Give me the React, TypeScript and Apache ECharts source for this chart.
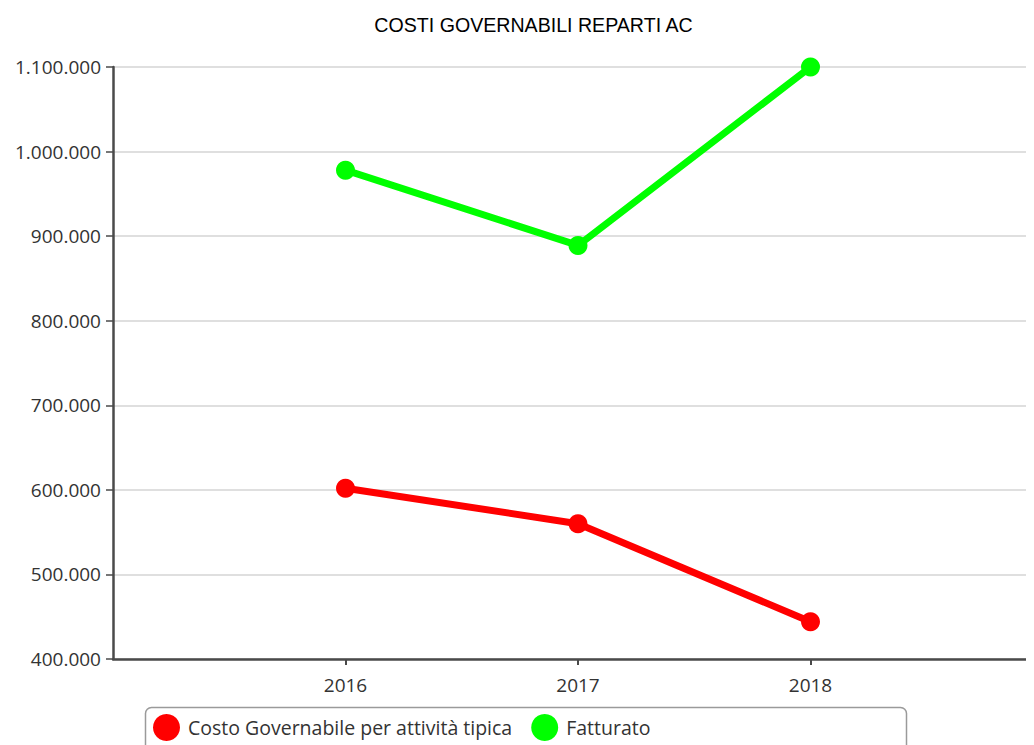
import React, { useEffect, useRef } from "react";
import * as echarts from "echarts";

const title = "COSTI GOVERNABILI REPARTI AC";
const years = ["2016", "2017", "2018"];
const costoGovernabile = [602000, 560000, 444000];
const fatturato = [978000, 889000, 1100000];
const seriesNames = ["Costo Governabile per attività tipica", "Fatturato"];
const yMin = 400000;
const yMax = 1100000;
const yStep = 100000;

const FONT = "'Open Sans', 'Noto Sans', sans-serif";

function fmt(v: number): string {
  return String(Math.round(v)).replace(/\B(?=(\d{3})+(?!\d))/g, ".");
}

export default function App() {
  const ref = useRef<HTMLDivElement>(null);
  useEffect(() => {
    if (!ref.current) return;
    const chart = echarts.init(ref.current, undefined, { renderer: "svg" });
    const cats = ["", ...years, ""];
    const pad = (arr: number[]) => [null, ...arr, null];
    chart.setOption({
      animation: false,
      graphic: [
        {
          type: "text",
          x: 525.5,
          y: 17,
          style: {
            text: title,
            font: "19.6px 'Liberation Sans', Arial, sans-serif",
            fill: "#000",
            textAlign: "center",
            textVerticalAlign: "middle",
          },
        },
        {
          type: "rect",
          shape: { x: 137.5, y: 699.5, width: 761, height: 44, r: 6 },
          style: { fill: "none", stroke: "#9a9a9a", lineWidth: 1.5 },
          z: 1,
        },
      ],
      legend: {
        left: 140,
        top: 701,
        itemWidth: 27,
        itemHeight: 27,
        itemGap: 19,
        icon: "circle",
        textStyle: { fontFamily: FONT, fontSize: 19.5, color: "#333", padding: [0, 0, 0, 3] },
        data: seriesNames,
      },
      grid: { left: 105, top: 59, right: 15, bottom: 86, containLabel: false },
      xAxis: {
        type: "category",
        data: cats,
        boundaryGap: false,
        axisLine: { lineStyle: { color: "#4a4a4a", width: 2.5 } },
        axisTick: {
          length: 6,
          lineStyle: { color: "#4a4a4a", width: 2 },
          interval: (i: number, v: string) => v !== "",
        },
        axisLabel: {
          interval: 0,
          fontFamily: FONT,
          fontSize: 19,
          color: "#333",
          margin: 16,
        },
        splitLine: { show: false },
      },
      yAxis: {
        type: "value",
        min: yMin,
        max: yMax,
        interval: yStep,
        axisLine: { show: true, lineStyle: { color: "#4a4a4a", width: 2.5 } },
        axisTick: { show: true, length: 7, lineStyle: { color: "#4a4a4a", width: 1.5 } },
        axisLabel: {
          fontFamily: FONT,
          fontSize: 19,
          color: "#333",
          margin: 12,
          formatter: (v: number) => fmt(v),
        },
        splitLine: { lineStyle: { color: "#d4d4d4", width: 1.5 } },
      },
      series: [
        {
          name: seriesNames[0],
          type: "line",
          data: pad(costoGovernabile),
          color: "#ff0000",
          symbol: "circle",
          symbolSize: 19,
          lineStyle: { width: 7, color: "#ff0000" },
          itemStyle: { color: "#ff0000" },
          connectNulls: false,
        },
        {
          name: seriesNames[1],
          type: "line",
          data: pad(fatturato),
          color: "#00ff00",
          symbol: "circle",
          symbolSize: 19,
          lineStyle: { width: 7, color: "#00ff00" },
          itemStyle: { color: "#00ff00" },
          connectNulls: false,
        },
      ],
    });
    return () => chart.dispose();
  }, []);
  return (
    <div style={{ width: 1026, height: 737, overflow: "hidden" }}>
      <div ref={ref} style={{ width: 1050, height: 737 }} />
    </div>
  );
}
